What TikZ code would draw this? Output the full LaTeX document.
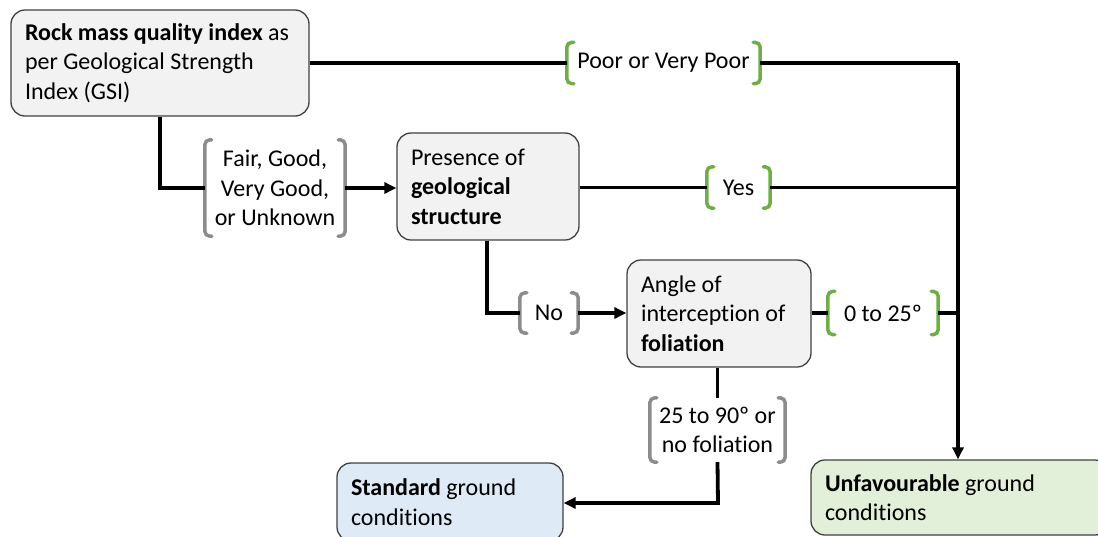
\documentclass[tikz,border=0pt]{standalone}
\usepackage{fontspec}
\setmainfont{Carlito}[Ligatures=NoCommon]
\usetikzlibrary{arrows.meta}
\definecolor{boxline}{HTML}{404040}
\definecolor{boxgray}{HTML}{F2F2F2}
\definecolor{boxblue}{HTML}{DEEBF7}
\definecolor{boxgreen}{HTML}{E2F0D9}
\definecolor{brgray}{HTML}{8C8C8C}
\definecolor{brgreen}{HTML}{70AD47}
\tikzset{
  box/.style={draw=boxline,rounded corners=14,line width=1.3,inner xsep=14,inner ysep=0,
    text width=#1,align=left,font=\fontsize{24}{29.5}\selectfont,
    execute at begin node={\spaceskip=\fontdimen2\font\relax}},
  lbl/.style={inner sep=0,align=center,font=\fontsize{24}{29.5}\selectfont,
    execute at begin node={\spaceskip=\fontdimen2\font\relax}},
  link/.style={line width=3.8}
}
\newcommand\lblbrackets[2]{%
  \draw[#2,line width=3.5,rounded corners=5,line cap=round]
    ([xshift=7]#1.north west) -- (#1.north west) -- (#1.south west) -- ([xshift=7]#1.south west);
  \draw[#2,line width=3.5,rounded corners=5,line cap=round]
    ([xshift=-7]#1.north east) -- (#1.north east) -- (#1.south east) -- ([xshift=-7]#1.south east);}

\begin{document}
\begin{tikzpicture}[x=1pt,y=-1pt,>={Triangle[length=12pt,width=11pt]}]
\useasboundingbox (0,0) rectangle (1098,536);
\clip (0,0) rectangle (1098,536);
\node (gsi) [box=270,fill=boxgray,minimum height=106] at (160,63)
  {\textbf{Rock mass quality index} as\\per Geological Strength\\Index (GSI)};
\node (pres) [box=154,fill=boxgray,minimum height=107] at (488,186.5)
  {Presence of\\\textbf{geological}\\\textbf{structure}};
\node (ang) [box=156,fill=boxgray,minimum height=107] at (719,313.5)
  {Angle of\\interception of\\\textbf{foliation}};
\node (std) [box=198,fill=boxblue,minimum height=78] at (450,502)
  {\textbf{Standard} ground\\conditions};
\node (unf) [box=270,fill=boxgreen,minimum height=75] at (960,497.5)
  {\textbf{Unfavourable} ground\\conditions};

\node (poor) [lbl,minimum width=193,minimum height=41] at (663.5,63) {Poor or Very Poor};
\node (yes) [lbl,minimum width=63,minimum height=41] at (738.5,187.5) {Yes};
\node (fair) [lbl,minimum width=140,minimum height=96] at (275,188) {Fair, Good,\\Very Good,\\or Unknown};
\node (no) [lbl,minimum width=58,minimum height=40] at (549,313) {No};
\node (zero) [lbl,minimum width=110,minimum height=43] at (883,313) {0 to 25º};
\node (ninety) [lbl,minimum width=135,minimum height=64] at (717.5,430) {25 to 90º or\\no foliation};
\lblbrackets{poor}{brgreen}
\lblbrackets{yes}{brgreen}
\lblbrackets{zero}{brgreen}
\lblbrackets{fair}{brgray}
\lblbrackets{no}{brgray}
\lblbrackets{ninety}{brgray}

\coordinate (jn) at (958,63);
\coordinate (gd) at (160,188);
\coordinate (pd) at (487,313);
\coordinate (ad) at (718,503);
\draw [link] (gsi.east |- poor) -- (poor.west);
\draw [link] (poor.east) -- (jn);
\draw [link,->] (jn) -- (jn |- unf.north);
\draw [link] (gsi.south -| gd) -- (gd) -- (fair.west);
\draw [link,->] (fair.east) -- (pres.west |- fair);
\draw [link] (pres.east |- yes) -- (yes.west);
\draw [link] (yes.east) -- (yes -| jn);
\draw [link] (pres.south -| pd) -- (pd) -- (no.west);
\draw [link,->] (no.east) -- (ang.west |- no);
\draw [link] (ang.east |- zero) -- (zero.west);
\draw [link] (zero.east) -- (zero -| jn);
\draw [link] (ang.south -| ninety) -- (ninety.north);
\draw [link,->] (ninety.south) -- (ad) -- (ad -| std.east);
\end{tikzpicture}
\end{document}
